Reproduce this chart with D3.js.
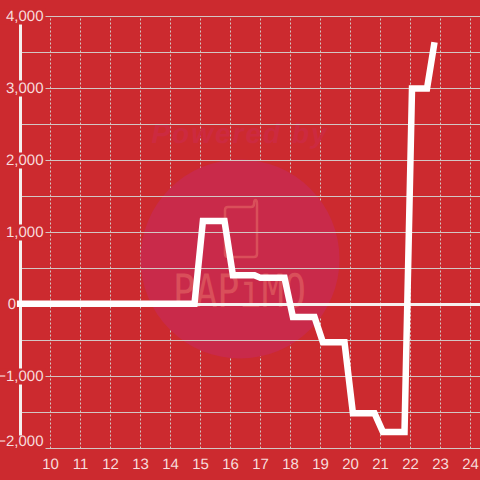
<!DOCTYPE html>
<html>
<head>
<meta charset="utf-8">
<script src="https://cdn.jsdelivr.net/npm/d3@7"></script>
<style>
  html, body { margin: 0; padding: 0; background: #cc2a2f; }
  svg { display: block; text-rendering: geometricPrecision; }
</style>
</head>
<body>
<script>
const xTicks = [10, 11, 12, 13, 14, 15, 16, 17, 18, 19, 20, 21, 22, 23, 24];
const yGrid = [-2000, -1500, -1000, -500, 0, 500, 1000, 1500, 2000, 2500, 3000, 3500, 4000];
const yLabelled = [-2000, -1000, 0, 1000, 2000, 3000, 4000];

const hours = [8.88, 14.8, 15.08, 15.8, 16.08, 16.8, 17, 17.8, 18.08, 18.8, 19.08, 19.8, 20.08, 20.8, 21.08, 21.8, 22.05, 22.55, 22.8];
const values = [10, 10, 1160, 1160, 407, 407, 370, 370, -172, -172, -525, -525, -1510, -1510, -1770, -1770, 3000, 3000, 3643];

const width = 480, height = 480;
const bg = "#cc2a2f", textColor = "#f7dcdc", gridColor = "#d3c6c4", white = "#f5f0ef";

const x = d3.scaleLinear().domain([9, 24.333]).range([20.5, 480.5]);
const y = d3.scaleLinear().domain([-2000, 4000]).range([448.5, 16.5]);

const svg = d3.select("body").append("svg")
  .attr("width", width)
  .attr("height", height)
  .attr("viewBox", [0, 0, width, height])
  .style("background", bg);

// vertical dashed grid + x labels
svg.append("g")
  .attr("transform", `translate(0,${y(-2000)})`)
  .call(d3.axisBottom(x).tickValues(xTicks).tickSize(-(y(-2000) - y(4000))).tickPadding(10).offset(0))
  .call(g => g.select(".domain").remove())
  .call(g => g.selectAll(".tick line")
    .attr("stroke", gridColor).attr("stroke-width", 1).attr("stroke-dasharray", "2,2"))
  .call(g => g.selectAll(".tick text")
    .attr("fill", textColor).attr("font-family", "Liberation Sans").attr("font-size", 15));

// watermark
const mark = svg.append("g");
mark.append("circle")
  .attr("cx", 240).attr("cy", 259).attr("r", 99.5)
  .attr("fill", "#c92a4a");
mark.append("text")
  .attr("x", 240).attr("y", 143)
  .attr("text-anchor", "middle")
  .attr("font-family", "Liberation Sans").attr("font-weight", "bold").attr("font-style", "italic")
  .attr("font-size", 28).attr("letter-spacing", 2)
  .attr("fill", "#cc2a40")
  .text("Powered by");
mark.append("path")
  .attr("d", "M228,207 H251 Q254,207 254,204 Q254,200 255.5,200 Q257,200 257,204 V254 Q257,257 254,257 H228 Q225,257 225,254 V210 Q225,207 228,207 Z")
  .attr("fill", "none").attr("stroke", "#d94f5a").attr("stroke-width", 2.5);
mark.append("text")
  .attr("x", 173).attr("y", 307)
  .attr("font-family", "DejaVu Sans Mono").attr("font-size", 46)
  .attr("textLength", 133).attr("lengthAdjust", "spacingAndGlyphs")
  .attr("fill", "#d94f5a")
  .text("PAPiMO");

// horizontal grid
svg.append("g")
  .attr("transform", "translate(20,0)")
  .call(d3.axisRight(y).tickValues(yGrid).tickSize(width - 20).tickFormat("").offset(0))
  .call(g => g.select(".domain").remove())
  .call(g => g.selectAll(".tick line")
    .attr("stroke", d => d === 0 ? white : gridColor)
    .attr("stroke-width", d => d === 0 ? 3 : 1));

// y axis bar, labels sit on a background patch that cuts it
svg.append("line")
  .attr("x1", 20.5).attr("x2", 20.5).attr("y1", y(4000)).attr("y2", y(-2000))
  .attr("stroke", white).attr("stroke-width", 3);

const yAxis = svg.append("g")
  .attr("transform", "translate(44,0)")
  .call(d3.axisLeft(y).tickValues(yLabelled).tickSize(0).tickPadding(0).tickFormat(d3.format(",")).offset(0))
  .call(g => g.select(".domain").remove())
  .call(g => g.selectAll(".tick text")
    .attr("fill", textColor).attr("font-family", "Liberation Sans").attr("font-size", 15)
    .attr("dy", "0.33em")
    .attr("x", d => d === 0 ? -28 : -0.5)
    .attr("y", d => d === -2000 ? -7 : 0));
yAxis.selectAll(".tick").filter(d => d !== 0).insert("rect", "text")
  .attr("x", -44).attr("y", d => d === -2000 ? -13 : -8).attr("width", 45.5).attr("height", d => d === -2000 ? 14 : 16)
  .attr("fill", bg);

// series
const line = d3.line().x((d, i) => x(hours[i])).y(d => y(d));
svg.append("path")
  .datum(values)
  .attr("d", line)
  .attr("fill", "none")
  .attr("stroke", "#ffffff")
  .attr("stroke-width", 6.5)
  .attr("stroke-linejoin", "miter");
</script>
</body>
</html>
